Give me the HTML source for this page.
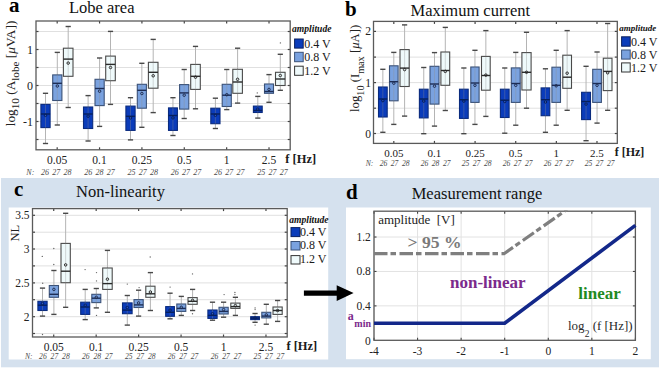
<!DOCTYPE html><html><head><meta charset="utf-8"><style>html,body{margin:0;padding:0;background:#fff;}svg{display:block;}text{font-family:"Liberation Serif", serif;}</style></head><body>
<svg width="660" height="369" viewBox="0 0 660 369">
<rect x="0" y="0" width="660" height="369" fill="#ffffff" stroke="none" stroke-width="0" />
<rect x="1" y="178" width="658" height="189.3" fill="#d5e1ee" stroke="none" stroke-width="0" />
<rect x="8.7" y="207.5" width="319.5" height="152" fill="#ffffff" stroke="none" stroke-width="0" />
<rect x="346" y="207.5" width="304.8" height="151.7" fill="#ffffff" stroke="none" stroke-width="0" />
<text x="9" y="12.1" font-size="21" text-anchor="start" font-weight="bold" font-style="normal" fill="#000" >a</text>
<text x="69" y="12.7" font-size="16.5" text-anchor="start" font-weight="normal" font-style="normal" fill="#111" >Lobe area</text>
<line x1="36" y1="31.5" x2="290.2" y2="31.5" stroke="#e0e0e0" stroke-width="1" />
<line x1="36" y1="31.5" x2="38.5" y2="31.5" stroke="#444" stroke-width="1.2" />
<line x1="287.7" y1="31.5" x2="290.2" y2="31.5" stroke="#444" stroke-width="1.2" />
<line x1="36" y1="49.5" x2="290.2" y2="49.5" stroke="#e0e0e0" stroke-width="1" />
<line x1="36" y1="49.5" x2="38.5" y2="49.5" stroke="#444" stroke-width="1.2" />
<line x1="287.7" y1="49.5" x2="290.2" y2="49.5" stroke="#444" stroke-width="1.2" />
<line x1="36" y1="67.5" x2="290.2" y2="67.5" stroke="#e0e0e0" stroke-width="1" />
<line x1="36" y1="67.5" x2="38.5" y2="67.5" stroke="#444" stroke-width="1.2" />
<line x1="287.7" y1="67.5" x2="290.2" y2="67.5" stroke="#444" stroke-width="1.2" />
<line x1="36" y1="85.5" x2="290.2" y2="85.5" stroke="#e0e0e0" stroke-width="1" />
<line x1="36" y1="85.5" x2="38.5" y2="85.5" stroke="#444" stroke-width="1.2" />
<line x1="287.7" y1="85.5" x2="290.2" y2="85.5" stroke="#444" stroke-width="1.2" />
<line x1="36" y1="103.5" x2="290.2" y2="103.5" stroke="#e0e0e0" stroke-width="1" />
<line x1="36" y1="103.5" x2="38.5" y2="103.5" stroke="#444" stroke-width="1.2" />
<line x1="287.7" y1="103.5" x2="290.2" y2="103.5" stroke="#444" stroke-width="1.2" />
<line x1="36" y1="121.5" x2="290.2" y2="121.5" stroke="#e0e0e0" stroke-width="1" />
<line x1="36" y1="121.5" x2="38.5" y2="121.5" stroke="#444" stroke-width="1.2" />
<line x1="287.7" y1="121.5" x2="290.2" y2="121.5" stroke="#444" stroke-width="1.2" />
<line x1="36" y1="139.5" x2="290.2" y2="139.5" stroke="#e0e0e0" stroke-width="1" />
<line x1="36" y1="139.5" x2="38.5" y2="139.5" stroke="#444" stroke-width="1.2" />
<line x1="287.7" y1="139.5" x2="290.2" y2="139.5" stroke="#444" stroke-width="1.2" />
<line x1="57.18333333333334" y1="149.8" x2="57.18333333333334" y2="147.3" stroke="#444" stroke-width="1.2" />
<line x1="57.18333333333334" y1="21" x2="57.18333333333334" y2="23.5" stroke="#444" stroke-width="1.2" />
<line x1="99.55" y1="149.8" x2="99.55" y2="147.3" stroke="#444" stroke-width="1.2" />
<line x1="99.55" y1="21" x2="99.55" y2="23.5" stroke="#444" stroke-width="1.2" />
<line x1="141.91666666666669" y1="149.8" x2="141.91666666666669" y2="147.3" stroke="#444" stroke-width="1.2" />
<line x1="141.91666666666669" y1="21" x2="141.91666666666669" y2="23.5" stroke="#444" stroke-width="1.2" />
<line x1="184.28333333333333" y1="149.8" x2="184.28333333333333" y2="147.3" stroke="#444" stroke-width="1.2" />
<line x1="184.28333333333333" y1="21" x2="184.28333333333333" y2="23.5" stroke="#444" stroke-width="1.2" />
<line x1="226.65" y1="149.8" x2="226.65" y2="147.3" stroke="#444" stroke-width="1.2" />
<line x1="226.65" y1="21" x2="226.65" y2="23.5" stroke="#444" stroke-width="1.2" />
<line x1="269.01666666666665" y1="149.8" x2="269.01666666666665" y2="147.3" stroke="#444" stroke-width="1.2" />
<line x1="269.01666666666665" y1="21" x2="269.01666666666665" y2="23.5" stroke="#444" stroke-width="1.2" />
<line x1="45.5" y1="93.3" x2="45.5" y2="104.4" stroke="#b4b4b4" stroke-width="1" />
<line x1="45.5" y1="127.6" x2="45.5" y2="143.5" stroke="#b4b4b4" stroke-width="1" />
<rect x="40.9" y="104.4" width="9.200000000000003" height="23.19999999999999" fill="#0b3cba" stroke="#0a2b7e" stroke-width="1.1" />
<line x1="45.5" y1="104.4" x2="45.5" y2="127.6" stroke="#909090" stroke-width="1" stroke-opacity="0.35"/>
<line x1="40.9" y1="114" x2="50.1" y2="114" stroke="#06205e" stroke-width="1.4" />
<circle cx="45.5" cy="115.3" r="1.25" fill="none" stroke="#06205e" stroke-width="1"/>
<line x1="42.9" y1="93.3" x2="48.1" y2="93.3" stroke="#484848" stroke-width="1.4" />
<line x1="42.9" y1="143.5" x2="48.1" y2="143.5" stroke="#484848" stroke-width="1.4" />
<line x1="57.3" y1="52.4" x2="57.3" y2="74.9" stroke="#b4b4b4" stroke-width="1" />
<line x1="57.3" y1="100.5" x2="57.3" y2="125" stroke="#b4b4b4" stroke-width="1" />
<rect x="52.7" y="74.9" width="9.199999999999996" height="25.599999999999994" fill="#7aa2df" stroke="#3b5278" stroke-width="1.1" />
<line x1="57.3" y1="74.9" x2="57.3" y2="100.5" stroke="#909090" stroke-width="1" stroke-opacity="0.35"/>
<line x1="52.7" y1="83.3" x2="61.9" y2="83.3" stroke="#1d2d55" stroke-width="1.4" />
<circle cx="57.3" cy="86" r="1.25" fill="none" stroke="#1d2d55" stroke-width="1"/>
<line x1="54.699999999999996" y1="52.4" x2="59.9" y2="52.4" stroke="#484848" stroke-width="1.4" />
<line x1="54.699999999999996" y1="125" x2="59.9" y2="125" stroke="#484848" stroke-width="1.4" />
<line x1="68.2" y1="26.5" x2="68.2" y2="48.2" stroke="#b4b4b4" stroke-width="1" />
<line x1="68.2" y1="76.3" x2="68.2" y2="107.5" stroke="#b4b4b4" stroke-width="1" />
<rect x="63.4" y="48.2" width="9.600000000000001" height="28.099999999999994" fill="#effafb" stroke="#4a4a4a" stroke-width="1.1" />
<line x1="68.2" y1="48.2" x2="68.2" y2="76.3" stroke="#909090" stroke-width="1" stroke-opacity="0.35"/>
<line x1="63.4" y1="59.1" x2="73.0" y2="59.1" stroke="#2a2a2a" stroke-width="1.4" />
<circle cx="68.2" cy="63.1" r="1.25" fill="none" stroke="#2a2a2a" stroke-width="1"/>
<line x1="65.60000000000001" y1="26.5" x2="70.8" y2="26.5" stroke="#484848" stroke-width="1.4" />
<line x1="65.60000000000001" y1="107.5" x2="70.8" y2="107.5" stroke="#484848" stroke-width="1.4" />
<line x1="88.1" y1="95.6" x2="88.1" y2="107" stroke="#b4b4b4" stroke-width="1" />
<line x1="88.1" y1="128.5" x2="88.1" y2="141" stroke="#b4b4b4" stroke-width="1" />
<rect x="83.5" y="107" width="9.200000000000003" height="21.5" fill="#0b3cba" stroke="#0a2b7e" stroke-width="1.1" />
<line x1="88.1" y1="107" x2="88.1" y2="128.5" stroke="#909090" stroke-width="1" stroke-opacity="0.35"/>
<line x1="83.5" y1="114" x2="92.7" y2="114" stroke="#06205e" stroke-width="1.4" />
<circle cx="88.1" cy="116.2" r="1.25" fill="none" stroke="#06205e" stroke-width="1"/>
<line x1="85.5" y1="95.6" x2="90.69999999999999" y2="95.6" stroke="#484848" stroke-width="1.4" />
<line x1="85.5" y1="141" x2="90.69999999999999" y2="141" stroke="#484848" stroke-width="1.4" />
<line x1="99.6" y1="58" x2="99.6" y2="79.3" stroke="#b4b4b4" stroke-width="1" />
<line x1="99.6" y1="105.6" x2="99.6" y2="126.4" stroke="#b4b4b4" stroke-width="1" />
<rect x="95.0" y="79.3" width="9.200000000000003" height="26.299999999999997" fill="#7aa2df" stroke="#3b5278" stroke-width="1.1" />
<line x1="99.6" y1="79.3" x2="99.6" y2="105.6" stroke="#909090" stroke-width="1" stroke-opacity="0.35"/>
<line x1="95.0" y1="88.5" x2="104.2" y2="88.5" stroke="#1d2d55" stroke-width="1.4" />
<circle cx="99.6" cy="91.2" r="1.25" fill="none" stroke="#1d2d55" stroke-width="1"/>
<line x1="97.0" y1="58" x2="102.19999999999999" y2="58" stroke="#484848" stroke-width="1.4" />
<line x1="97.0" y1="126.4" x2="102.19999999999999" y2="126.4" stroke="#484848" stroke-width="1.4" />
<line x1="110.5" y1="31.4" x2="110.5" y2="56.1" stroke="#b4b4b4" stroke-width="1" />
<line x1="110.5" y1="80.7" x2="110.5" y2="104.4" stroke="#b4b4b4" stroke-width="1" />
<rect x="105.7" y="56.1" width="9.599999999999994" height="24.6" fill="#effafb" stroke="#4a4a4a" stroke-width="1.1" />
<line x1="110.5" y1="56.1" x2="110.5" y2="80.7" stroke="#909090" stroke-width="1" stroke-opacity="0.35"/>
<line x1="105.7" y1="64.4" x2="115.3" y2="64.4" stroke="#2a2a2a" stroke-width="1.4" />
<circle cx="110.5" cy="67.5" r="1.25" fill="none" stroke="#2a2a2a" stroke-width="1"/>
<line x1="107.9" y1="31.4" x2="113.1" y2="31.4" stroke="#484848" stroke-width="1.4" />
<line x1="107.9" y1="104.4" x2="113.1" y2="104.4" stroke="#484848" stroke-width="1.4" />
<line x1="130.5" y1="97.7" x2="130.5" y2="106.1" stroke="#b4b4b4" stroke-width="1" />
<line x1="130.5" y1="130.4" x2="130.5" y2="139.9" stroke="#b4b4b4" stroke-width="1" />
<rect x="125.9" y="106.1" width="9.199999999999989" height="24.30000000000001" fill="#0b3cba" stroke="#0a2b7e" stroke-width="1.1" />
<line x1="130.5" y1="106.1" x2="130.5" y2="130.4" stroke="#909090" stroke-width="1" stroke-opacity="0.35"/>
<line x1="125.9" y1="116.3" x2="135.1" y2="116.3" stroke="#06205e" stroke-width="1.4" />
<circle cx="130.5" cy="117.9" r="1.25" fill="none" stroke="#06205e" stroke-width="1"/>
<line x1="127.9" y1="97.7" x2="133.1" y2="97.7" stroke="#484848" stroke-width="1.4" />
<line x1="127.9" y1="139.9" x2="133.1" y2="139.9" stroke="#484848" stroke-width="1.4" />
<line x1="141.85000000000002" y1="63.3" x2="141.85000000000002" y2="84.3" stroke="#b4b4b4" stroke-width="1" />
<line x1="141.85000000000002" y1="108.2" x2="141.85000000000002" y2="127.3" stroke="#b4b4b4" stroke-width="1" />
<rect x="137.3" y="84.3" width="9.099999999999994" height="23.900000000000006" fill="#7aa2df" stroke="#3b5278" stroke-width="1.1" />
<line x1="141.85000000000002" y1="84.3" x2="141.85000000000002" y2="108.2" stroke="#909090" stroke-width="1" stroke-opacity="0.35"/>
<line x1="137.3" y1="90.3" x2="146.4" y2="90.3" stroke="#1d2d55" stroke-width="1.4" />
<circle cx="141.85000000000002" cy="93.5" r="1.25" fill="none" stroke="#1d2d55" stroke-width="1"/>
<line x1="139.25000000000003" y1="63.3" x2="144.45000000000002" y2="63.3" stroke="#484848" stroke-width="1.4" />
<line x1="139.25000000000003" y1="127.3" x2="144.45000000000002" y2="127.3" stroke="#484848" stroke-width="1.4" />
<line x1="153.2" y1="39.4" x2="153.2" y2="62.3" stroke="#b4b4b4" stroke-width="1" />
<line x1="153.2" y1="88.2" x2="153.2" y2="112.6" stroke="#b4b4b4" stroke-width="1" />
<rect x="148.4" y="62.3" width="9.599999999999994" height="25.900000000000006" fill="#effafb" stroke="#4a4a4a" stroke-width="1.1" />
<line x1="153.2" y1="62.3" x2="153.2" y2="88.2" stroke="#909090" stroke-width="1" stroke-opacity="0.35"/>
<line x1="148.4" y1="72.3" x2="158.0" y2="72.3" stroke="#2a2a2a" stroke-width="1.4" />
<circle cx="153.2" cy="75.8" r="1.25" fill="none" stroke="#2a2a2a" stroke-width="1"/>
<line x1="150.6" y1="39.4" x2="155.79999999999998" y2="39.4" stroke="#484848" stroke-width="1.4" />
<line x1="150.6" y1="112.6" x2="155.79999999999998" y2="112.6" stroke="#484848" stroke-width="1.4" />
<line x1="172.95" y1="97.7" x2="172.95" y2="107.9" stroke="#b4b4b4" stroke-width="1" />
<line x1="172.95" y1="130.4" x2="172.95" y2="135.5" stroke="#b4b4b4" stroke-width="1" />
<rect x="168.5" y="107.9" width="8.900000000000006" height="22.5" fill="#0b3cba" stroke="#0a2b7e" stroke-width="1.1" />
<line x1="172.95" y1="107.9" x2="172.95" y2="130.4" stroke="#909090" stroke-width="1" stroke-opacity="0.35"/>
<line x1="168.5" y1="115.5" x2="177.4" y2="115.5" stroke="#06205e" stroke-width="1.4" />
<circle cx="172.95" cy="117.9" r="1.25" fill="none" stroke="#06205e" stroke-width="1"/>
<line x1="170.35" y1="97.7" x2="175.54999999999998" y2="97.7" stroke="#484848" stroke-width="1.4" />
<line x1="170.35" y1="135.5" x2="175.54999999999998" y2="135.5" stroke="#484848" stroke-width="1.4" />
<line x1="184.2" y1="69.5" x2="184.2" y2="84.6" stroke="#b4b4b4" stroke-width="1" />
<line x1="184.2" y1="109.1" x2="184.2" y2="118.5" stroke="#b4b4b4" stroke-width="1" />
<rect x="179.6" y="84.6" width="9.200000000000017" height="24.5" fill="#7aa2df" stroke="#3b5278" stroke-width="1.1" />
<line x1="184.2" y1="84.6" x2="184.2" y2="109.1" stroke="#909090" stroke-width="1" stroke-opacity="0.35"/>
<line x1="179.6" y1="92.9" x2="188.8" y2="92.9" stroke="#1d2d55" stroke-width="1.4" />
<circle cx="184.2" cy="95.2" r="1.25" fill="none" stroke="#1d2d55" stroke-width="1"/>
<line x1="181.6" y1="69.5" x2="186.79999999999998" y2="69.5" stroke="#484848" stroke-width="1.4" />
<line x1="181.6" y1="118.5" x2="186.79999999999998" y2="118.5" stroke="#484848" stroke-width="1.4" />
<line x1="195.5" y1="46.4" x2="195.5" y2="64.4" stroke="#b4b4b4" stroke-width="1" />
<line x1="195.5" y1="89.4" x2="195.5" y2="108.8" stroke="#b4b4b4" stroke-width="1" />
<rect x="190.7" y="64.4" width="9.600000000000023" height="25.0" fill="#effafb" stroke="#4a4a4a" stroke-width="1.1" />
<line x1="195.5" y1="64.4" x2="195.5" y2="89.4" stroke="#909090" stroke-width="1" stroke-opacity="0.35"/>
<line x1="190.7" y1="76.3" x2="200.3" y2="76.3" stroke="#2a2a2a" stroke-width="1.4" />
<circle cx="195.5" cy="77.2" r="1.25" fill="none" stroke="#2a2a2a" stroke-width="1"/>
<line x1="192.9" y1="46.4" x2="198.1" y2="46.4" stroke="#484848" stroke-width="1.4" />
<line x1="192.9" y1="108.8" x2="198.1" y2="108.8" stroke="#484848" stroke-width="1.4" />
<line x1="215.4" y1="98.2" x2="215.4" y2="108.2" stroke="#b4b4b4" stroke-width="1" />
<line x1="215.4" y1="123.7" x2="215.4" y2="128.5" stroke="#b4b4b4" stroke-width="1" />
<rect x="210.8" y="108.2" width="9.199999999999989" height="15.5" fill="#0b3cba" stroke="#0a2b7e" stroke-width="1.1" />
<line x1="215.4" y1="108.2" x2="215.4" y2="123.7" stroke="#909090" stroke-width="1" stroke-opacity="0.35"/>
<line x1="210.8" y1="114" x2="220.0" y2="114" stroke="#06205e" stroke-width="1.4" />
<circle cx="215.4" cy="115.3" r="1.25" fill="none" stroke="#06205e" stroke-width="1"/>
<line x1="212.8" y1="98.2" x2="218.0" y2="98.2" stroke="#484848" stroke-width="1.4" />
<line x1="212.8" y1="128.5" x2="218.0" y2="128.5" stroke="#484848" stroke-width="1.4" />
<line x1="226.75" y1="69.5" x2="226.75" y2="84.3" stroke="#b4b4b4" stroke-width="1" />
<line x1="226.75" y1="106.5" x2="226.75" y2="109.6" stroke="#b4b4b4" stroke-width="1" />
<rect x="222.2" y="84.3" width="9.100000000000023" height="22.200000000000003" fill="#7aa2df" stroke="#3b5278" stroke-width="1.1" />
<line x1="226.75" y1="84.3" x2="226.75" y2="106.5" stroke="#909090" stroke-width="1" stroke-opacity="0.35"/>
<line x1="222.2" y1="95.2" x2="231.3" y2="95.2" stroke="#1d2d55" stroke-width="1.4" />
<circle cx="226.75" cy="94.7" r="1.25" fill="none" stroke="#1d2d55" stroke-width="1"/>
<line x1="224.15" y1="69.5" x2="229.35" y2="69.5" stroke="#484848" stroke-width="1.4" />
<line x1="224.15" y1="109.6" x2="229.35" y2="109.6" stroke="#484848" stroke-width="1.4" />
<line x1="237.60000000000002" y1="48.2" x2="237.60000000000002" y2="69.3" stroke="#b4b4b4" stroke-width="1" />
<line x1="237.60000000000002" y1="93.3" x2="237.60000000000002" y2="103.1" stroke="#b4b4b4" stroke-width="1" />
<rect x="232.8" y="69.3" width="9.599999999999994" height="24.0" fill="#effafb" stroke="#4a4a4a" stroke-width="1.1" />
<line x1="237.60000000000002" y1="69.3" x2="237.60000000000002" y2="93.3" stroke="#909090" stroke-width="1" stroke-opacity="0.35"/>
<line x1="232.8" y1="82" x2="242.4" y2="82" stroke="#2a2a2a" stroke-width="1.4" />
<circle cx="237.60000000000002" cy="79.3" r="1.25" fill="none" stroke="#2a2a2a" stroke-width="1"/>
<line x1="235.00000000000003" y1="48.2" x2="240.20000000000002" y2="48.2" stroke="#484848" stroke-width="1.4" />
<line x1="235.00000000000003" y1="103.1" x2="240.20000000000002" y2="103.1" stroke="#484848" stroke-width="1.4" />
<line x1="257.8" y1="96.4" x2="257.8" y2="106.1" stroke="#b4b4b4" stroke-width="1" />
<line x1="257.8" y1="112.5" x2="257.8" y2="118.1" stroke="#b4b4b4" stroke-width="1" />
<rect x="253.4" y="106.1" width="8.799999999999983" height="6.400000000000006" fill="#0b3cba" stroke="#0a2b7e" stroke-width="1.1" />
<line x1="257.8" y1="106.1" x2="257.8" y2="112.5" stroke="#909090" stroke-width="1" stroke-opacity="0.35"/>
<line x1="253.4" y1="110.5" x2="262.2" y2="110.5" stroke="#06205e" stroke-width="1.4" />
<circle cx="257.8" cy="109.1" r="1.25" fill="none" stroke="#06205e" stroke-width="1"/>
<line x1="255.20000000000002" y1="96.4" x2="260.40000000000003" y2="96.4" stroke="#484848" stroke-width="1.4" />
<line x1="255.20000000000002" y1="118.1" x2="260.40000000000003" y2="118.1" stroke="#484848" stroke-width="1.4" />
<line x1="269.0" y1="74.6" x2="269.0" y2="84" stroke="#b4b4b4" stroke-width="1" />
<line x1="269.0" y1="93.3" x2="269.0" y2="102.3" stroke="#b4b4b4" stroke-width="1" />
<rect x="264.5" y="84" width="9" height="9.299999999999997" fill="#7aa2df" stroke="#3b5278" stroke-width="1.1" />
<line x1="269.0" y1="84" x2="269.0" y2="93.3" stroke="#909090" stroke-width="1" stroke-opacity="0.35"/>
<line x1="264.5" y1="91.5" x2="273.5" y2="91.5" stroke="#1d2d55" stroke-width="1.4" />
<circle cx="269.0" cy="89.4" r="1.25" fill="none" stroke="#1d2d55" stroke-width="1"/>
<line x1="266.4" y1="74.6" x2="271.6" y2="74.6" stroke="#484848" stroke-width="1.4" />
<line x1="266.4" y1="102.3" x2="271.6" y2="102.3" stroke="#484848" stroke-width="1.4" />
<line x1="280.3" y1="54.3" x2="280.3" y2="72.3" stroke="#b4b4b4" stroke-width="1" />
<line x1="280.3" y1="85.5" x2="280.3" y2="90.3" stroke="#b4b4b4" stroke-width="1" />
<rect x="275.5" y="72.3" width="9.600000000000023" height="13.200000000000003" fill="#effafb" stroke="#4a4a4a" stroke-width="1.1" />
<line x1="280.3" y1="72.3" x2="280.3" y2="85.5" stroke="#909090" stroke-width="1" stroke-opacity="0.35"/>
<line x1="275.5" y1="79" x2="285.1" y2="79" stroke="#2a2a2a" stroke-width="1.4" />
<circle cx="280.3" cy="75.5" r="1.25" fill="none" stroke="#2a2a2a" stroke-width="1"/>
<line x1="277.7" y1="54.3" x2="282.90000000000003" y2="54.3" stroke="#484848" stroke-width="1.4" />
<line x1="277.7" y1="90.3" x2="282.90000000000003" y2="90.3" stroke="#484848" stroke-width="1.4" />
<circle cx="257.3" cy="92.9" r="0.7" fill="#666"/>
<circle cx="280.4" cy="42.9" r="0.7" fill="#666"/>
<rect x="36" y="21" width="254.2" height="128.8" fill="none" stroke="#5a5a5a" stroke-width="1.3"/>
<text x="33" y="53.6" font-size="12" text-anchor="end" font-weight="normal" font-style="normal" fill="#222" >1</text>
<text x="33" y="89.6" font-size="12" text-anchor="end" font-weight="normal" font-style="normal" fill="#222" >0</text>
<text x="33" y="125.6" font-size="12" text-anchor="end" font-weight="normal" font-style="normal" fill="#222" >-1</text>
<g transform="translate(14.8,126.3) rotate(-90)">
<text x="0" y="0" font-size="13.3" fill="#222">log<tspan font-size="11.2" dy="4.5">10</tspan><tspan dy="-4.5"> (A</tspan><tspan font-size="11.2" dy="4.5">lobe</tspan><tspan dy="-4.5"> [</tspan><tspan font-style="italic">μ</tspan>VA])</text>
</g>
<text x="57.18333333333334" y="163.7" font-size="11.5" text-anchor="middle" font-weight="normal" font-style="normal" fill="#222" >0.05</text>
<text x="45.0" y="174.8" font-size="8" text-anchor="middle" font-weight="normal" font-style="italic" fill="#4a4a4a" >26</text>
<text x="56.3" y="174.8" font-size="8" text-anchor="middle" font-weight="normal" font-style="italic" fill="#4a4a4a" >27</text>
<text x="67.6" y="174.8" font-size="8" text-anchor="middle" font-weight="normal" font-style="italic" fill="#4a4a4a" >28</text>
<text x="99.55" y="163.7" font-size="11.5" text-anchor="middle" font-weight="normal" font-style="normal" fill="#222" >0.1</text>
<text x="88.25" y="174.8" font-size="8" text-anchor="middle" font-weight="normal" font-style="italic" fill="#4a4a4a" >26</text>
<text x="99.55" y="174.8" font-size="8" text-anchor="middle" font-weight="normal" font-style="italic" fill="#4a4a4a" >28</text>
<text x="110.85" y="174.8" font-size="8" text-anchor="middle" font-weight="normal" font-style="italic" fill="#4a4a4a" >27</text>
<text x="141.91666666666669" y="163.7" font-size="11.5" text-anchor="middle" font-weight="normal" font-style="normal" fill="#222" >0.25</text>
<text x="131.5" y="174.8" font-size="8" text-anchor="middle" font-weight="normal" font-style="italic" fill="#4a4a4a" >25</text>
<text x="142.8" y="174.8" font-size="8" text-anchor="middle" font-weight="normal" font-style="italic" fill="#4a4a4a" >27</text>
<text x="154.1" y="174.8" font-size="8" text-anchor="middle" font-weight="normal" font-style="italic" fill="#4a4a4a" >28</text>
<text x="184.28333333333333" y="163.7" font-size="11.5" text-anchor="middle" font-weight="normal" font-style="normal" fill="#222" >0.5</text>
<text x="174.75" y="174.8" font-size="8" text-anchor="middle" font-weight="normal" font-style="italic" fill="#4a4a4a" >26</text>
<text x="186.05" y="174.8" font-size="8" text-anchor="middle" font-weight="normal" font-style="italic" fill="#4a4a4a" >27</text>
<text x="197.35" y="174.8" font-size="8" text-anchor="middle" font-weight="normal" font-style="italic" fill="#4a4a4a" >27</text>
<text x="226.65" y="163.7" font-size="11.5" text-anchor="middle" font-weight="normal" font-style="normal" fill="#222" >1</text>
<text x="218.0" y="174.8" font-size="8" text-anchor="middle" font-weight="normal" font-style="italic" fill="#4a4a4a" >26</text>
<text x="229.3" y="174.8" font-size="8" text-anchor="middle" font-weight="normal" font-style="italic" fill="#4a4a4a" >27</text>
<text x="240.6" y="174.8" font-size="8" text-anchor="middle" font-weight="normal" font-style="italic" fill="#4a4a4a" >27</text>
<text x="269.01666666666665" y="163.7" font-size="11.5" text-anchor="middle" font-weight="normal" font-style="normal" fill="#222" >2.5</text>
<text x="261.25" y="174.8" font-size="8" text-anchor="middle" font-weight="normal" font-style="italic" fill="#4a4a4a" >25</text>
<text x="272.55" y="174.8" font-size="8" text-anchor="middle" font-weight="normal" font-style="italic" fill="#4a4a4a" >27</text>
<text x="283.85" y="174.8" font-size="8" text-anchor="middle" font-weight="normal" font-style="italic" fill="#4a4a4a" >27</text>
<text x="26.3" y="174.8" font-size="8" text-anchor="start" font-weight="normal" font-style="italic" fill="#4a4a4a" >N:</text>
<text x="285.3" y="163" font-size="12.5" text-anchor="start" font-weight="bold" font-style="normal" fill="#1a1a1a" >f [Hz]</text>
<text x="292" y="31.6" font-size="9.6" text-anchor="start" font-weight="bold" font-style="italic" fill="#111" >amplitude</text>
<rect x="294.6" y="39" width="8.6" height="9.100000000000001" fill="#0b3cba" stroke="#0a2060" stroke-width="1" />
<text x="304.2" y="47.5" font-size="12" text-anchor="start" font-weight="normal" font-style="normal" fill="#1a1a1a" >0.4 V</text>
<rect x="294.6" y="52.3" width="8.6" height="9.400000000000006" fill="#7aa2df" stroke="#3b5278" stroke-width="1" />
<text x="304.2" y="61.1" font-size="12" text-anchor="start" font-weight="normal" font-style="normal" fill="#1a1a1a" >0.8 V</text>
<rect x="294.6" y="66.2" width="8.6" height="9.099999999999994" fill="#effafb" stroke="#333" stroke-width="1" />
<text x="304.2" y="74.7" font-size="12" text-anchor="start" font-weight="normal" font-style="normal" fill="#1a1a1a" >1.2 V</text>
<text x="345" y="16" font-size="21" text-anchor="start" font-weight="bold" font-style="normal" fill="#000" >b</text>
<text x="410.5" y="16" font-size="16.5" text-anchor="start" font-weight="normal" font-style="normal" fill="#111" >Maximum current</text>
<line x1="373.5" y1="31.4" x2="617.3" y2="31.4" stroke="#e0e0e0" stroke-width="1" />
<line x1="373.5" y1="31.4" x2="376.0" y2="31.4" stroke="#444" stroke-width="1.2" />
<line x1="614.8" y1="31.4" x2="617.3" y2="31.4" stroke="#444" stroke-width="1.2" />
<line x1="373.5" y1="57.1" x2="617.3" y2="57.1" stroke="#e0e0e0" stroke-width="1" />
<line x1="373.5" y1="57.1" x2="376.0" y2="57.1" stroke="#444" stroke-width="1.2" />
<line x1="614.8" y1="57.1" x2="617.3" y2="57.1" stroke="#444" stroke-width="1.2" />
<line x1="373.5" y1="82.6" x2="617.3" y2="82.6" stroke="#e0e0e0" stroke-width="1" />
<line x1="373.5" y1="82.6" x2="376.0" y2="82.6" stroke="#444" stroke-width="1.2" />
<line x1="614.8" y1="82.6" x2="617.3" y2="82.6" stroke="#444" stroke-width="1.2" />
<line x1="373.5" y1="108.2" x2="617.3" y2="108.2" stroke="#e0e0e0" stroke-width="1" />
<line x1="373.5" y1="108.2" x2="376.0" y2="108.2" stroke="#444" stroke-width="1.2" />
<line x1="614.8" y1="108.2" x2="617.3" y2="108.2" stroke="#444" stroke-width="1.2" />
<line x1="373.5" y1="133.5" x2="617.3" y2="133.5" stroke="#e0e0e0" stroke-width="1" />
<line x1="373.5" y1="133.5" x2="376.0" y2="133.5" stroke="#444" stroke-width="1.2" />
<line x1="614.8" y1="133.5" x2="617.3" y2="133.5" stroke="#444" stroke-width="1.2" />
<line x1="393.81666666666666" y1="143.4" x2="393.81666666666666" y2="140.9" stroke="#444" stroke-width="1.2" />
<line x1="393.81666666666666" y1="21.4" x2="393.81666666666666" y2="23.9" stroke="#444" stroke-width="1.2" />
<line x1="434.45" y1="143.4" x2="434.45" y2="140.9" stroke="#444" stroke-width="1.2" />
<line x1="434.45" y1="21.4" x2="434.45" y2="23.9" stroke="#444" stroke-width="1.2" />
<line x1="475.0833333333333" y1="143.4" x2="475.0833333333333" y2="140.9" stroke="#444" stroke-width="1.2" />
<line x1="475.0833333333333" y1="21.4" x2="475.0833333333333" y2="23.9" stroke="#444" stroke-width="1.2" />
<line x1="515.7166666666667" y1="143.4" x2="515.7166666666667" y2="140.9" stroke="#444" stroke-width="1.2" />
<line x1="515.7166666666667" y1="21.4" x2="515.7166666666667" y2="23.9" stroke="#444" stroke-width="1.2" />
<line x1="556.3499999999999" y1="143.4" x2="556.3499999999999" y2="140.9" stroke="#444" stroke-width="1.2" />
<line x1="556.3499999999999" y1="21.4" x2="556.3499999999999" y2="23.9" stroke="#444" stroke-width="1.2" />
<line x1="596.9833333333333" y1="143.4" x2="596.9833333333333" y2="140.9" stroke="#444" stroke-width="1.2" />
<line x1="596.9833333333333" y1="21.4" x2="596.9833333333333" y2="23.9" stroke="#444" stroke-width="1.2" />
<line x1="382.85" y1="69.3" x2="382.85" y2="87" stroke="#b4b4b4" stroke-width="1" />
<line x1="382.85" y1="117" x2="382.85" y2="132.3" stroke="#b4b4b4" stroke-width="1" />
<rect x="378.5" y="87" width="8.699999999999989" height="30" fill="#0b3cba" stroke="#0a2b7e" stroke-width="1.1" />
<line x1="382.85" y1="87" x2="382.85" y2="117" stroke="#909090" stroke-width="1" stroke-opacity="0.35"/>
<line x1="378.5" y1="99" x2="387.2" y2="99" stroke="#06205e" stroke-width="1.4" />
<circle cx="382.85" cy="100.6" r="1.25" fill="none" stroke="#06205e" stroke-width="1"/>
<line x1="380.25" y1="69.3" x2="385.45000000000005" y2="69.3" stroke="#484848" stroke-width="1.4" />
<line x1="380.25" y1="132.3" x2="385.45000000000005" y2="132.3" stroke="#484848" stroke-width="1.4" />
<line x1="393.8" y1="52.4" x2="393.8" y2="65.8" stroke="#b4b4b4" stroke-width="1" />
<line x1="393.8" y1="100.8" x2="393.8" y2="124.4" stroke="#b4b4b4" stroke-width="1" />
<rect x="389.5" y="65.8" width="8.600000000000023" height="35.0" fill="#7aa2df" stroke="#3b5278" stroke-width="1.1" />
<line x1="393.8" y1="65.8" x2="393.8" y2="100.8" stroke="#909090" stroke-width="1" stroke-opacity="0.35"/>
<line x1="389.5" y1="81.7" x2="398.1" y2="81.7" stroke="#1d2d55" stroke-width="1.4" />
<circle cx="393.8" cy="83.2" r="1.25" fill="none" stroke="#1d2d55" stroke-width="1"/>
<line x1="391.2" y1="52.4" x2="396.40000000000003" y2="52.4" stroke="#484848" stroke-width="1.4" />
<line x1="391.2" y1="124.4" x2="396.40000000000003" y2="124.4" stroke="#484848" stroke-width="1.4" />
<line x1="404.6" y1="24.9" x2="404.6" y2="49.6" stroke="#b4b4b4" stroke-width="1" />
<line x1="404.6" y1="86.5" x2="404.6" y2="116.1" stroke="#b4b4b4" stroke-width="1" />
<rect x="400.0" y="49.6" width="9.199999999999989" height="36.9" fill="#effafb" stroke="#4a4a4a" stroke-width="1.1" />
<line x1="404.6" y1="49.6" x2="404.6" y2="86.5" stroke="#909090" stroke-width="1" stroke-opacity="0.35"/>
<line x1="400.0" y1="68.1" x2="409.2" y2="68.1" stroke="#2a2a2a" stroke-width="1.4" />
<circle cx="404.6" cy="69.6" r="1.25" fill="none" stroke="#2a2a2a" stroke-width="1"/>
<line x1="402.0" y1="24.9" x2="407.20000000000005" y2="24.9" stroke="#484848" stroke-width="1.4" />
<line x1="402.0" y1="116.1" x2="407.20000000000005" y2="116.1" stroke="#484848" stroke-width="1.4" />
<line x1="423.75" y1="67.5" x2="423.75" y2="89.2" stroke="#b4b4b4" stroke-width="1" />
<line x1="423.75" y1="117.9" x2="423.75" y2="133.7" stroke="#b4b4b4" stroke-width="1" />
<rect x="419.4" y="89.2" width="8.700000000000045" height="28.700000000000003" fill="#0b3cba" stroke="#0a2b7e" stroke-width="1.1" />
<line x1="423.75" y1="89.2" x2="423.75" y2="117.9" stroke="#909090" stroke-width="1" stroke-opacity="0.35"/>
<line x1="419.4" y1="99" x2="428.1" y2="99" stroke="#06205e" stroke-width="1.4" />
<circle cx="423.75" cy="101.1" r="1.25" fill="none" stroke="#06205e" stroke-width="1"/>
<line x1="421.15" y1="67.5" x2="426.35" y2="67.5" stroke="#484848" stroke-width="1.4" />
<line x1="421.15" y1="133.7" x2="426.35" y2="133.7" stroke="#484848" stroke-width="1.4" />
<line x1="434.5" y1="52.6" x2="434.5" y2="66.3" stroke="#b4b4b4" stroke-width="1" />
<line x1="434.5" y1="104.1" x2="434.5" y2="126.1" stroke="#b4b4b4" stroke-width="1" />
<rect x="430.0" y="66.3" width="9.0" height="37.8" fill="#7aa2df" stroke="#3b5278" stroke-width="1.1" />
<line x1="434.5" y1="66.3" x2="434.5" y2="104.1" stroke="#909090" stroke-width="1" stroke-opacity="0.35"/>
<line x1="430.0" y1="84" x2="439.0" y2="84" stroke="#1d2d55" stroke-width="1.4" />
<circle cx="434.5" cy="86.2" r="1.25" fill="none" stroke="#1d2d55" stroke-width="1"/>
<line x1="431.9" y1="52.6" x2="437.1" y2="52.6" stroke="#484848" stroke-width="1.4" />
<line x1="431.9" y1="126.1" x2="437.1" y2="126.1" stroke="#484848" stroke-width="1.4" />
<line x1="445.29999999999995" y1="27.4" x2="445.29999999999995" y2="52" stroke="#b4b4b4" stroke-width="1" />
<line x1="445.29999999999995" y1="85.3" x2="445.29999999999995" y2="110.5" stroke="#b4b4b4" stroke-width="1" />
<rect x="440.9" y="52" width="8.800000000000011" height="33.3" fill="#effafb" stroke="#4a4a4a" stroke-width="1.1" />
<line x1="445.29999999999995" y1="52" x2="445.29999999999995" y2="85.3" stroke="#909090" stroke-width="1" stroke-opacity="0.35"/>
<line x1="440.9" y1="70.5" x2="449.7" y2="70.5" stroke="#2a2a2a" stroke-width="1.4" />
<circle cx="445.29999999999995" cy="71.4" r="1.25" fill="none" stroke="#2a2a2a" stroke-width="1"/>
<line x1="442.69999999999993" y1="27.4" x2="447.9" y2="27.4" stroke="#484848" stroke-width="1.4" />
<line x1="442.69999999999993" y1="110.5" x2="447.9" y2="110.5" stroke="#484848" stroke-width="1.4" />
<line x1="463.85" y1="68" x2="463.85" y2="89.2" stroke="#b4b4b4" stroke-width="1" />
<line x1="463.85" y1="118.4" x2="463.85" y2="133.7" stroke="#b4b4b4" stroke-width="1" />
<rect x="459.5" y="89.2" width="8.699999999999989" height="29.200000000000003" fill="#0b3cba" stroke="#0a2b7e" stroke-width="1.1" />
<line x1="463.85" y1="89.2" x2="463.85" y2="118.4" stroke="#909090" stroke-width="1" stroke-opacity="0.35"/>
<line x1="459.5" y1="99.7" x2="468.2" y2="99.7" stroke="#06205e" stroke-width="1.4" />
<circle cx="463.85" cy="101.1" r="1.25" fill="none" stroke="#06205e" stroke-width="1"/>
<line x1="461.25" y1="68" x2="466.45000000000005" y2="68" stroke="#484848" stroke-width="1.4" />
<line x1="461.25" y1="133.7" x2="466.45000000000005" y2="133.7" stroke="#484848" stroke-width="1.4" />
<line x1="474.95000000000005" y1="50.3" x2="474.95000000000005" y2="67" stroke="#b4b4b4" stroke-width="1" />
<line x1="474.95000000000005" y1="102.4" x2="474.95000000000005" y2="124.4" stroke="#b4b4b4" stroke-width="1" />
<rect x="470.8" y="67" width="8.300000000000011" height="35.400000000000006" fill="#7aa2df" stroke="#3b5278" stroke-width="1.1" />
<line x1="474.95000000000005" y1="67" x2="474.95000000000005" y2="102.4" stroke="#909090" stroke-width="1" stroke-opacity="0.35"/>
<line x1="470.8" y1="83" x2="479.1" y2="83" stroke="#1d2d55" stroke-width="1.4" />
<circle cx="474.95000000000005" cy="85.3" r="1.25" fill="none" stroke="#1d2d55" stroke-width="1"/>
<line x1="472.35" y1="50.3" x2="477.55000000000007" y2="50.3" stroke="#484848" stroke-width="1.4" />
<line x1="472.35" y1="124.4" x2="477.55000000000007" y2="124.4" stroke="#484848" stroke-width="1.4" />
<line x1="485.85" y1="30.6" x2="485.85" y2="56.4" stroke="#b4b4b4" stroke-width="1" />
<line x1="485.85" y1="90.2" x2="485.85" y2="116.4" stroke="#b4b4b4" stroke-width="1" />
<rect x="481.5" y="56.4" width="8.699999999999989" height="33.800000000000004" fill="#effafb" stroke="#4a4a4a" stroke-width="1.1" />
<line x1="485.85" y1="56.4" x2="485.85" y2="90.2" stroke="#909090" stroke-width="1" stroke-opacity="0.35"/>
<line x1="481.5" y1="75.5" x2="490.2" y2="75.5" stroke="#2a2a2a" stroke-width="1.4" />
<circle cx="485.85" cy="75.1" r="1.25" fill="none" stroke="#2a2a2a" stroke-width="1"/>
<line x1="483.25" y1="30.6" x2="488.45000000000005" y2="30.6" stroke="#484848" stroke-width="1.4" />
<line x1="483.25" y1="116.4" x2="488.45000000000005" y2="116.4" stroke="#484848" stroke-width="1.4" />
<line x1="504.75" y1="68" x2="504.75" y2="89.2" stroke="#b4b4b4" stroke-width="1" />
<line x1="504.75" y1="117.5" x2="504.75" y2="133.2" stroke="#b4b4b4" stroke-width="1" />
<rect x="500.4" y="89.2" width="8.700000000000045" height="28.299999999999997" fill="#0b3cba" stroke="#0a2b7e" stroke-width="1.1" />
<line x1="504.75" y1="89.2" x2="504.75" y2="117.5" stroke="#909090" stroke-width="1" stroke-opacity="0.35"/>
<line x1="500.4" y1="100.2" x2="509.1" y2="100.2" stroke="#06205e" stroke-width="1.4" />
<circle cx="504.75" cy="101.5" r="1.25" fill="none" stroke="#06205e" stroke-width="1"/>
<line x1="502.15" y1="68" x2="507.35" y2="68" stroke="#484848" stroke-width="1.4" />
<line x1="502.15" y1="133.2" x2="507.35" y2="133.2" stroke="#484848" stroke-width="1.4" />
<line x1="515.75" y1="52.4" x2="515.75" y2="67.9" stroke="#b4b4b4" stroke-width="1" />
<line x1="515.75" y1="102.4" x2="515.75" y2="125.2" stroke="#b4b4b4" stroke-width="1" />
<rect x="511.3" y="67.9" width="8.900000000000034" height="34.5" fill="#7aa2df" stroke="#3b5278" stroke-width="1.1" />
<line x1="515.75" y1="67.9" x2="515.75" y2="102.4" stroke="#909090" stroke-width="1" stroke-opacity="0.35"/>
<line x1="511.3" y1="83.5" x2="520.2" y2="83.5" stroke="#1d2d55" stroke-width="1.4" />
<circle cx="515.75" cy="85.3" r="1.25" fill="none" stroke="#1d2d55" stroke-width="1"/>
<line x1="513.15" y1="52.4" x2="518.35" y2="52.4" stroke="#484848" stroke-width="1.4" />
<line x1="513.15" y1="125.2" x2="518.35" y2="125.2" stroke="#484848" stroke-width="1.4" />
<line x1="526.5" y1="32.3" x2="526.5" y2="52.6" stroke="#b4b4b4" stroke-width="1" />
<line x1="526.5" y1="90" x2="526.5" y2="108.2" stroke="#b4b4b4" stroke-width="1" />
<rect x="521.9" y="52.6" width="9.200000000000045" height="37.4" fill="#effafb" stroke="#4a4a4a" stroke-width="1.1" />
<line x1="526.5" y1="52.6" x2="526.5" y2="90" stroke="#909090" stroke-width="1" stroke-opacity="0.35"/>
<line x1="521.9" y1="72.3" x2="531.1" y2="72.3" stroke="#2a2a2a" stroke-width="1.4" />
<circle cx="526.5" cy="72.3" r="1.25" fill="none" stroke="#2a2a2a" stroke-width="1"/>
<line x1="523.9" y1="32.3" x2="529.1" y2="32.3" stroke="#484848" stroke-width="1.4" />
<line x1="523.9" y1="108.2" x2="529.1" y2="108.2" stroke="#484848" stroke-width="1.4" />
<line x1="545.45" y1="68.8" x2="545.45" y2="87.9" stroke="#b4b4b4" stroke-width="1" />
<line x1="545.45" y1="115.7" x2="545.45" y2="132.3" stroke="#b4b4b4" stroke-width="1" />
<rect x="541.1" y="87.9" width="8.699999999999932" height="27.799999999999997" fill="#0b3cba" stroke="#0a2b7e" stroke-width="1.1" />
<line x1="545.45" y1="87.9" x2="545.45" y2="115.7" stroke="#909090" stroke-width="1" stroke-opacity="0.35"/>
<line x1="541.1" y1="99.7" x2="549.8" y2="99.7" stroke="#06205e" stroke-width="1.4" />
<circle cx="545.45" cy="102" r="1.25" fill="none" stroke="#06205e" stroke-width="1"/>
<line x1="542.85" y1="68.8" x2="548.0500000000001" y2="68.8" stroke="#484848" stroke-width="1.4" />
<line x1="542.85" y1="132.3" x2="548.0500000000001" y2="132.3" stroke="#484848" stroke-width="1.4" />
<line x1="556.2" y1="50.3" x2="556.2" y2="67.2" stroke="#b4b4b4" stroke-width="1" />
<line x1="556.2" y1="102.4" x2="556.2" y2="125.2" stroke="#b4b4b4" stroke-width="1" />
<rect x="551.9" y="67.2" width="8.600000000000023" height="35.2" fill="#7aa2df" stroke="#3b5278" stroke-width="1.1" />
<line x1="556.2" y1="67.2" x2="556.2" y2="102.4" stroke="#909090" stroke-width="1" stroke-opacity="0.35"/>
<line x1="551.9" y1="85.3" x2="560.5" y2="85.3" stroke="#1d2d55" stroke-width="1.4" />
<circle cx="556.2" cy="85.8" r="1.25" fill="none" stroke="#1d2d55" stroke-width="1"/>
<line x1="553.6" y1="50.3" x2="558.8000000000001" y2="50.3" stroke="#484848" stroke-width="1.4" />
<line x1="553.6" y1="125.2" x2="558.8000000000001" y2="125.2" stroke="#484848" stroke-width="1.4" />
<line x1="567.15" y1="30.6" x2="567.15" y2="55.2" stroke="#b4b4b4" stroke-width="1" />
<line x1="567.15" y1="88.3" x2="567.15" y2="110.3" stroke="#b4b4b4" stroke-width="1" />
<rect x="562.8" y="55.2" width="8.700000000000045" height="33.099999999999994" fill="#effafb" stroke="#4a4a4a" stroke-width="1.1" />
<line x1="567.15" y1="55.2" x2="567.15" y2="88.3" stroke="#909090" stroke-width="1" stroke-opacity="0.35"/>
<line x1="562.8" y1="77.2" x2="571.5" y2="77.2" stroke="#2a2a2a" stroke-width="1.4" />
<circle cx="567.15" cy="73.2" r="1.25" fill="none" stroke="#2a2a2a" stroke-width="1"/>
<line x1="564.55" y1="30.6" x2="569.75" y2="30.6" stroke="#484848" stroke-width="1.4" />
<line x1="564.55" y1="110.3" x2="569.75" y2="110.3" stroke="#484848" stroke-width="1.4" />
<line x1="586.05" y1="66.3" x2="586.05" y2="92.3" stroke="#b4b4b4" stroke-width="1" />
<line x1="586.05" y1="119.6" x2="586.05" y2="140.7" stroke="#b4b4b4" stroke-width="1" />
<rect x="581.6" y="92.3" width="8.899999999999977" height="27.299999999999997" fill="#0b3cba" stroke="#0a2b7e" stroke-width="1.1" />
<line x1="586.05" y1="92.3" x2="586.05" y2="119.6" stroke="#909090" stroke-width="1" stroke-opacity="0.35"/>
<line x1="581.6" y1="101.5" x2="590.5" y2="101.5" stroke="#06205e" stroke-width="1.4" />
<circle cx="586.05" cy="104.1" r="1.25" fill="none" stroke="#06205e" stroke-width="1"/>
<line x1="583.4499999999999" y1="66.3" x2="588.65" y2="66.3" stroke="#484848" stroke-width="1.4" />
<line x1="583.4499999999999" y1="140.7" x2="588.65" y2="140.7" stroke="#484848" stroke-width="1.4" />
<line x1="597.05" y1="52" x2="597.05" y2="69.3" stroke="#b4b4b4" stroke-width="1" />
<line x1="597.05" y1="102.4" x2="597.05" y2="123.1" stroke="#b4b4b4" stroke-width="1" />
<rect x="592.7" y="69.3" width="8.699999999999932" height="33.10000000000001" fill="#7aa2df" stroke="#3b5278" stroke-width="1.1" />
<line x1="597.05" y1="69.3" x2="597.05" y2="102.4" stroke="#909090" stroke-width="1" stroke-opacity="0.35"/>
<line x1="592.7" y1="83.5" x2="601.4" y2="83.5" stroke="#1d2d55" stroke-width="1.4" />
<circle cx="597.05" cy="85.3" r="1.25" fill="none" stroke="#1d2d55" stroke-width="1"/>
<line x1="594.4499999999999" y1="52" x2="599.65" y2="52" stroke="#484848" stroke-width="1.4" />
<line x1="594.4499999999999" y1="123.1" x2="599.65" y2="123.1" stroke="#484848" stroke-width="1.4" />
<line x1="607.65" y1="23.5" x2="607.65" y2="58.2" stroke="#b4b4b4" stroke-width="1" />
<line x1="607.65" y1="90.6" x2="607.65" y2="110.3" stroke="#b4b4b4" stroke-width="1" />
<rect x="603.3" y="58.2" width="8.700000000000045" height="32.39999999999999" fill="#effafb" stroke="#4a4a4a" stroke-width="1.1" />
<line x1="607.65" y1="58.2" x2="607.65" y2="90.6" stroke="#909090" stroke-width="1" stroke-opacity="0.35"/>
<line x1="603.3" y1="71.4" x2="612.0" y2="71.4" stroke="#2a2a2a" stroke-width="1.4" />
<circle cx="607.65" cy="72.8" r="1.25" fill="none" stroke="#2a2a2a" stroke-width="1"/>
<line x1="605.05" y1="23.5" x2="610.25" y2="23.5" stroke="#484848" stroke-width="1.4" />
<line x1="605.05" y1="110.3" x2="610.25" y2="110.3" stroke="#484848" stroke-width="1.4" />
<rect x="373.5" y="21.4" width="243.79999999999995" height="122.0" fill="none" stroke="#5a5a5a" stroke-width="1.3"/>
<text x="371" y="35.4" font-size="11.6" text-anchor="end" font-weight="normal" font-style="normal" fill="#222" >2</text>
<text x="371" y="86.6" font-size="11.6" text-anchor="end" font-weight="normal" font-style="normal" fill="#222" >1</text>
<text x="371" y="137.5" font-size="11.6" text-anchor="end" font-weight="normal" font-style="normal" fill="#222" >0</text>
<g transform="translate(359.3,112) rotate(-90)">
<text x="0" y="0" font-size="12.75" fill="#222">log<tspan font-size="10.2" dy="4.2">10</tspan><tspan dy="-4.2"> (I</tspan><tspan font-size="10.2" dy="4.2">max</tspan><tspan dy="-4.2"> [</tspan><tspan font-style="italic">μ</tspan>A])</text>
</g>
<text x="393.81666666666666" y="157" font-size="11" text-anchor="middle" font-weight="normal" font-style="normal" fill="#222" >0.05</text>
<text x="383.5" y="165.6" font-size="7.6" text-anchor="middle" font-weight="normal" font-style="italic" fill="#4a4a4a" >26</text>
<text x="394.6" y="165.6" font-size="7.6" text-anchor="middle" font-weight="normal" font-style="italic" fill="#4a4a4a" >27</text>
<text x="405.7" y="165.6" font-size="7.6" text-anchor="middle" font-weight="normal" font-style="italic" fill="#4a4a4a" >28</text>
<text x="434.45" y="157" font-size="11" text-anchor="middle" font-weight="normal" font-style="normal" fill="#222" >0.1</text>
<text x="424.5" y="165.6" font-size="7.6" text-anchor="middle" font-weight="normal" font-style="italic" fill="#4a4a4a" >26</text>
<text x="435.6" y="165.6" font-size="7.6" text-anchor="middle" font-weight="normal" font-style="italic" fill="#4a4a4a" >28</text>
<text x="446.7" y="165.6" font-size="7.6" text-anchor="middle" font-weight="normal" font-style="italic" fill="#4a4a4a" >27</text>
<text x="475.0833333333333" y="157" font-size="11" text-anchor="middle" font-weight="normal" font-style="normal" fill="#222" >0.25</text>
<text x="465.5" y="165.6" font-size="7.6" text-anchor="middle" font-weight="normal" font-style="italic" fill="#4a4a4a" >25</text>
<text x="476.6" y="165.6" font-size="7.6" text-anchor="middle" font-weight="normal" font-style="italic" fill="#4a4a4a" >27</text>
<text x="487.7" y="165.6" font-size="7.6" text-anchor="middle" font-weight="normal" font-style="italic" fill="#4a4a4a" >28</text>
<text x="515.7166666666667" y="157" font-size="11" text-anchor="middle" font-weight="normal" font-style="normal" fill="#222" >0.5</text>
<text x="506.5" y="165.6" font-size="7.6" text-anchor="middle" font-weight="normal" font-style="italic" fill="#4a4a4a" >26</text>
<text x="517.6" y="165.6" font-size="7.6" text-anchor="middle" font-weight="normal" font-style="italic" fill="#4a4a4a" >27</text>
<text x="528.7" y="165.6" font-size="7.6" text-anchor="middle" font-weight="normal" font-style="italic" fill="#4a4a4a" >27</text>
<text x="556.3499999999999" y="157" font-size="11" text-anchor="middle" font-weight="normal" font-style="normal" fill="#222" >1</text>
<text x="547.5" y="165.6" font-size="7.6" text-anchor="middle" font-weight="normal" font-style="italic" fill="#4a4a4a" >26</text>
<text x="558.6" y="165.6" font-size="7.6" text-anchor="middle" font-weight="normal" font-style="italic" fill="#4a4a4a" >27</text>
<text x="569.7" y="165.6" font-size="7.6" text-anchor="middle" font-weight="normal" font-style="italic" fill="#4a4a4a" >27</text>
<text x="596.9833333333333" y="157" font-size="11" text-anchor="middle" font-weight="normal" font-style="normal" fill="#222" >2.5</text>
<text x="588.5" y="165.6" font-size="7.6" text-anchor="middle" font-weight="normal" font-style="italic" fill="#4a4a4a" >25</text>
<text x="599.6" y="165.6" font-size="7.6" text-anchor="middle" font-weight="normal" font-style="italic" fill="#4a4a4a" >27</text>
<text x="610.7" y="165.6" font-size="7.6" text-anchor="middle" font-weight="normal" font-style="italic" fill="#4a4a4a" >27</text>
<text x="365.8" y="165.6" font-size="7.6" text-anchor="start" font-weight="normal" font-style="italic" fill="#4a4a4a" >N:</text>
<text x="614.7" y="156.3" font-size="12" text-anchor="start" font-weight="bold" font-style="normal" fill="#1a1a1a" >f [Hz]</text>
<text x="619.3" y="30.6" font-size="9" text-anchor="start" font-weight="bold" font-style="italic" fill="#111" >amplitude</text>
<rect x="621.6" y="36.8" width="8.6" height="9.400000000000006" fill="#0b3cba" stroke="#0a2060" stroke-width="1" />
<text x="631" y="45.800000000000004" font-size="12" text-anchor="start" font-weight="normal" font-style="normal" fill="#1a1a1a" >0.4 V</text>
<rect x="621.6" y="50" width="8.6" height="9.100000000000001" fill="#7aa2df" stroke="#3b5278" stroke-width="1" />
<text x="631" y="58.7" font-size="12" text-anchor="start" font-weight="normal" font-style="normal" fill="#1a1a1a" >0.8 V</text>
<rect x="621.6" y="62.9" width="8.6" height="9.100000000000001" fill="#effafb" stroke="#333" stroke-width="1" />
<text x="631" y="71.60000000000001" font-size="12" text-anchor="start" font-weight="normal" font-style="normal" fill="#1a1a1a" >1.2 V</text>
<text x="14" y="196.3" font-size="21" text-anchor="start" font-weight="bold" font-style="normal" fill="#000" >c</text>
<text x="76" y="196.5" font-size="16.5" text-anchor="start" font-weight="normal" font-style="normal" fill="#111" >Non-linearity</text>
<line x1="32.5" y1="215.3" x2="287.2" y2="215.3" stroke="#e0e0e0" stroke-width="1" />
<line x1="32.5" y1="215.3" x2="35.0" y2="215.3" stroke="#444" stroke-width="1.2" />
<line x1="284.7" y1="215.3" x2="287.2" y2="215.3" stroke="#444" stroke-width="1.2" />
<line x1="32.5" y1="232.2" x2="287.2" y2="232.2" stroke="#e0e0e0" stroke-width="1" />
<line x1="32.5" y1="232.2" x2="35.0" y2="232.2" stroke="#444" stroke-width="1.2" />
<line x1="284.7" y1="232.2" x2="287.2" y2="232.2" stroke="#444" stroke-width="1.2" />
<line x1="32.5" y1="249" x2="287.2" y2="249" stroke="#e0e0e0" stroke-width="1" />
<line x1="32.5" y1="249" x2="35.0" y2="249" stroke="#444" stroke-width="1.2" />
<line x1="284.7" y1="249" x2="287.2" y2="249" stroke="#444" stroke-width="1.2" />
<line x1="32.5" y1="265.9" x2="287.2" y2="265.9" stroke="#e0e0e0" stroke-width="1" />
<line x1="32.5" y1="265.9" x2="35.0" y2="265.9" stroke="#444" stroke-width="1.2" />
<line x1="284.7" y1="265.9" x2="287.2" y2="265.9" stroke="#444" stroke-width="1.2" />
<line x1="32.5" y1="282.9" x2="287.2" y2="282.9" stroke="#e0e0e0" stroke-width="1" />
<line x1="32.5" y1="282.9" x2="35.0" y2="282.9" stroke="#444" stroke-width="1.2" />
<line x1="284.7" y1="282.9" x2="287.2" y2="282.9" stroke="#444" stroke-width="1.2" />
<line x1="32.5" y1="299.7" x2="287.2" y2="299.7" stroke="#e0e0e0" stroke-width="1" />
<line x1="32.5" y1="299.7" x2="35.0" y2="299.7" stroke="#444" stroke-width="1.2" />
<line x1="284.7" y1="299.7" x2="287.2" y2="299.7" stroke="#444" stroke-width="1.2" />
<line x1="32.5" y1="316.7" x2="287.2" y2="316.7" stroke="#e0e0e0" stroke-width="1" />
<line x1="32.5" y1="316.7" x2="35.0" y2="316.7" stroke="#444" stroke-width="1.2" />
<line x1="284.7" y1="316.7" x2="287.2" y2="316.7" stroke="#444" stroke-width="1.2" />
<line x1="32.5" y1="333.5" x2="287.2" y2="333.5" stroke="#e0e0e0" stroke-width="1" />
<line x1="32.5" y1="333.5" x2="35.0" y2="333.5" stroke="#444" stroke-width="1.2" />
<line x1="284.7" y1="333.5" x2="287.2" y2="333.5" stroke="#444" stroke-width="1.2" />
<line x1="53.724999999999994" y1="337" x2="53.724999999999994" y2="334.5" stroke="#444" stroke-width="1.2" />
<line x1="53.724999999999994" y1="208.6" x2="53.724999999999994" y2="211.1" stroke="#444" stroke-width="1.2" />
<line x1="96.175" y1="337" x2="96.175" y2="334.5" stroke="#444" stroke-width="1.2" />
<line x1="96.175" y1="208.6" x2="96.175" y2="211.1" stroke="#444" stroke-width="1.2" />
<line x1="138.625" y1="337" x2="138.625" y2="334.5" stroke="#444" stroke-width="1.2" />
<line x1="138.625" y1="208.6" x2="138.625" y2="211.1" stroke="#444" stroke-width="1.2" />
<line x1="181.075" y1="337" x2="181.075" y2="334.5" stroke="#444" stroke-width="1.2" />
<line x1="181.075" y1="208.6" x2="181.075" y2="211.1" stroke="#444" stroke-width="1.2" />
<line x1="223.52499999999998" y1="337" x2="223.52499999999998" y2="334.5" stroke="#444" stroke-width="1.2" />
<line x1="223.52499999999998" y1="208.6" x2="223.52499999999998" y2="211.1" stroke="#444" stroke-width="1.2" />
<line x1="265.97499999999997" y1="337" x2="265.97499999999997" y2="334.5" stroke="#444" stroke-width="1.2" />
<line x1="265.97499999999997" y1="208.6" x2="265.97499999999997" y2="211.1" stroke="#444" stroke-width="1.2" />
<line x1="42.5" y1="288.1" x2="42.5" y2="301.3" stroke="#b4b4b4" stroke-width="1" />
<line x1="42.5" y1="310.5" x2="42.5" y2="316.1" stroke="#b4b4b4" stroke-width="1" />
<rect x="37.9" y="301.3" width="9.200000000000003" height="9.199999999999989" fill="#0b3cba" stroke="#0a2b7e" stroke-width="1.1" />
<line x1="42.5" y1="301.3" x2="42.5" y2="310.5" stroke="#909090" stroke-width="1" stroke-opacity="0.35"/>
<line x1="37.9" y1="305.2" x2="47.1" y2="305.2" stroke="#06205e" stroke-width="1.4" />
<circle cx="42.5" cy="303.5" r="1.25" fill="none" stroke="#06205e" stroke-width="1"/>
<line x1="39.9" y1="288.1" x2="45.1" y2="288.1" stroke="#484848" stroke-width="1.4" />
<line x1="39.9" y1="316.1" x2="45.1" y2="316.1" stroke="#484848" stroke-width="1.4" />
<line x1="53.9" y1="270.5" x2="53.9" y2="285.5" stroke="#b4b4b4" stroke-width="1" />
<line x1="53.9" y1="297.3" x2="53.9" y2="314.4" stroke="#b4b4b4" stroke-width="1" />
<rect x="49.3" y="285.5" width="9.200000000000003" height="11.800000000000011" fill="#7aa2df" stroke="#3b5278" stroke-width="1.1" />
<line x1="53.9" y1="285.5" x2="53.9" y2="297.3" stroke="#909090" stroke-width="1" stroke-opacity="0.35"/>
<line x1="49.3" y1="294.3" x2="58.5" y2="294.3" stroke="#1d2d55" stroke-width="1.4" />
<circle cx="53.9" cy="289.4" r="1.25" fill="none" stroke="#1d2d55" stroke-width="1"/>
<line x1="51.3" y1="270.5" x2="56.5" y2="270.5" stroke="#484848" stroke-width="1.4" />
<line x1="51.3" y1="314.4" x2="56.5" y2="314.4" stroke="#484848" stroke-width="1.4" />
<line x1="65.65" y1="213.3" x2="65.65" y2="243.4" stroke="#b4b4b4" stroke-width="1" />
<line x1="65.65" y1="282.7" x2="65.65" y2="307.3" stroke="#b4b4b4" stroke-width="1" />
<rect x="61.0" y="243.4" width="9.299999999999997" height="39.29999999999998" fill="#effafb" stroke="#4a4a4a" stroke-width="1.1" />
<line x1="65.65" y1="243.4" x2="65.65" y2="282.7" stroke="#909090" stroke-width="1" stroke-opacity="0.35"/>
<line x1="61.0" y1="271.2" x2="70.3" y2="271.2" stroke="#2a2a2a" stroke-width="1.4" />
<circle cx="65.65" cy="264.9" r="1.25" fill="none" stroke="#2a2a2a" stroke-width="1"/>
<line x1="63.050000000000004" y1="213.3" x2="68.25" y2="213.3" stroke="#484848" stroke-width="1.4" />
<line x1="63.050000000000004" y1="307.3" x2="68.25" y2="307.3" stroke="#484848" stroke-width="1.4" />
<line x1="85.2" y1="289.4" x2="85.2" y2="302.2" stroke="#b4b4b4" stroke-width="1" />
<line x1="85.2" y1="314.4" x2="85.2" y2="319.6" stroke="#b4b4b4" stroke-width="1" />
<rect x="80.7" y="302.2" width="9.0" height="12.199999999999989" fill="#0b3cba" stroke="#0a2b7e" stroke-width="1.1" />
<line x1="85.2" y1="302.2" x2="85.2" y2="314.4" stroke="#909090" stroke-width="1" stroke-opacity="0.35"/>
<line x1="80.7" y1="307" x2="89.7" y2="307" stroke="#06205e" stroke-width="1.4" />
<circle cx="85.2" cy="305.2" r="1.25" fill="none" stroke="#06205e" stroke-width="1"/>
<line x1="82.60000000000001" y1="289.4" x2="87.8" y2="289.4" stroke="#484848" stroke-width="1.4" />
<line x1="82.60000000000001" y1="319.6" x2="87.8" y2="319.6" stroke="#484848" stroke-width="1.4" />
<line x1="96.3" y1="288.5" x2="96.3" y2="294.3" stroke="#b4b4b4" stroke-width="1" />
<line x1="96.3" y1="302.6" x2="96.3" y2="307.9" stroke="#b4b4b4" stroke-width="1" />
<rect x="91.8" y="294.3" width="9.0" height="8.300000000000011" fill="#7aa2df" stroke="#3b5278" stroke-width="1.1" />
<line x1="96.3" y1="294.3" x2="96.3" y2="302.6" stroke="#909090" stroke-width="1" stroke-opacity="0.35"/>
<line x1="91.8" y1="298.2" x2="100.8" y2="298.2" stroke="#1d2d55" stroke-width="1.4" />
<circle cx="96.3" cy="297.3" r="1.25" fill="none" stroke="#1d2d55" stroke-width="1"/>
<line x1="93.7" y1="288.5" x2="98.89999999999999" y2="288.5" stroke="#484848" stroke-width="1.4" />
<line x1="93.7" y1="307.9" x2="98.89999999999999" y2="307.9" stroke="#484848" stroke-width="1.4" />
<line x1="107.45" y1="250.4" x2="107.45" y2="268" stroke="#b4b4b4" stroke-width="1" />
<line x1="107.45" y1="289.4" x2="107.45" y2="312.3" stroke="#b4b4b4" stroke-width="1" />
<rect x="102.7" y="268" width="9.5" height="21.399999999999977" fill="#effafb" stroke="#4a4a4a" stroke-width="1.1" />
<line x1="107.45" y1="268" x2="107.45" y2="289.4" stroke="#909090" stroke-width="1" stroke-opacity="0.35"/>
<line x1="102.7" y1="283.6" x2="112.2" y2="283.6" stroke="#2a2a2a" stroke-width="1.4" />
<circle cx="107.45" cy="279.2" r="1.25" fill="none" stroke="#2a2a2a" stroke-width="1"/>
<line x1="104.85000000000001" y1="250.4" x2="110.05" y2="250.4" stroke="#484848" stroke-width="1.4" />
<line x1="104.85000000000001" y1="312.3" x2="110.05" y2="312.3" stroke="#484848" stroke-width="1.4" />
<line x1="127.3" y1="295.5" x2="127.3" y2="302.9" stroke="#b4b4b4" stroke-width="1" />
<line x1="127.3" y1="313.7" x2="127.3" y2="325.1" stroke="#b4b4b4" stroke-width="1" />
<rect x="122.5" y="302.9" width="9.599999999999994" height="10.800000000000011" fill="#0b3cba" stroke="#0a2b7e" stroke-width="1.1" />
<line x1="127.3" y1="302.9" x2="127.3" y2="313.7" stroke="#909090" stroke-width="1" stroke-opacity="0.35"/>
<line x1="122.5" y1="310.1" x2="132.1" y2="310.1" stroke="#06205e" stroke-width="1.4" />
<circle cx="127.3" cy="307.5" r="1.25" fill="none" stroke="#06205e" stroke-width="1"/>
<line x1="124.7" y1="295.5" x2="129.9" y2="295.5" stroke="#484848" stroke-width="1.4" />
<line x1="124.7" y1="325.1" x2="129.9" y2="325.1" stroke="#484848" stroke-width="1.4" />
<line x1="138.6" y1="290.2" x2="138.6" y2="299.6" stroke="#b4b4b4" stroke-width="1" />
<line x1="138.6" y1="307.5" x2="138.6" y2="316.1" stroke="#b4b4b4" stroke-width="1" />
<rect x="134.0" y="299.6" width="9.199999999999989" height="7.899999999999977" fill="#7aa2df" stroke="#3b5278" stroke-width="1.1" />
<line x1="138.6" y1="299.6" x2="138.6" y2="307.5" stroke="#909090" stroke-width="1" stroke-opacity="0.35"/>
<line x1="134.0" y1="304.9" x2="143.2" y2="304.9" stroke="#1d2d55" stroke-width="1.4" />
<circle cx="138.6" cy="302.9" r="1.25" fill="none" stroke="#1d2d55" stroke-width="1"/>
<line x1="136.0" y1="290.2" x2="141.2" y2="290.2" stroke="#484848" stroke-width="1.4" />
<line x1="136.0" y1="316.1" x2="141.2" y2="316.1" stroke="#484848" stroke-width="1.4" />
<line x1="150.4" y1="272.6" x2="150.4" y2="286.2" stroke="#b4b4b4" stroke-width="1" />
<line x1="150.4" y1="297.3" x2="150.4" y2="310.5" stroke="#b4b4b4" stroke-width="1" />
<rect x="145.8" y="286.2" width="9.199999999999989" height="11.100000000000023" fill="#effafb" stroke="#4a4a4a" stroke-width="1.1" />
<line x1="150.4" y1="286.2" x2="150.4" y2="297.3" stroke="#909090" stroke-width="1" stroke-opacity="0.35"/>
<line x1="145.8" y1="293.8" x2="155.0" y2="293.8" stroke="#2a2a2a" stroke-width="1.4" />
<circle cx="150.4" cy="292" r="1.25" fill="none" stroke="#2a2a2a" stroke-width="1"/>
<line x1="147.8" y1="272.6" x2="153.0" y2="272.6" stroke="#484848" stroke-width="1.4" />
<line x1="147.8" y1="310.5" x2="153.0" y2="310.5" stroke="#484848" stroke-width="1.4" />
<line x1="170.05" y1="293.2" x2="170.05" y2="306.6" stroke="#b4b4b4" stroke-width="1" />
<line x1="170.05" y1="316.3" x2="170.05" y2="318.8" stroke="#b4b4b4" stroke-width="1" />
<rect x="165.7" y="306.6" width="8.700000000000017" height="9.699999999999989" fill="#0b3cba" stroke="#0a2b7e" stroke-width="1.1" />
<line x1="170.05" y1="306.6" x2="170.05" y2="316.3" stroke="#909090" stroke-width="1" stroke-opacity="0.35"/>
<line x1="165.7" y1="312.3" x2="174.4" y2="312.3" stroke="#06205e" stroke-width="1.4" />
<circle cx="170.05" cy="310.1" r="1.25" fill="none" stroke="#06205e" stroke-width="1"/>
<line x1="167.45000000000002" y1="293.2" x2="172.65" y2="293.2" stroke="#484848" stroke-width="1.4" />
<line x1="167.45000000000002" y1="318.8" x2="172.65" y2="318.8" stroke="#484848" stroke-width="1.4" />
<line x1="181.3" y1="296.4" x2="181.3" y2="304" stroke="#b4b4b4" stroke-width="1" />
<line x1="181.3" y1="311.4" x2="181.3" y2="315.4" stroke="#b4b4b4" stroke-width="1" />
<rect x="176.8" y="304" width="9.0" height="7.399999999999977" fill="#7aa2df" stroke="#3b5278" stroke-width="1.1" />
<line x1="181.3" y1="304" x2="181.3" y2="311.4" stroke="#909090" stroke-width="1" stroke-opacity="0.35"/>
<line x1="176.8" y1="308.4" x2="185.8" y2="308.4" stroke="#1d2d55" stroke-width="1.4" />
<circle cx="181.3" cy="307.3" r="1.25" fill="none" stroke="#1d2d55" stroke-width="1"/>
<line x1="178.70000000000002" y1="296.4" x2="183.9" y2="296.4" stroke="#484848" stroke-width="1.4" />
<line x1="178.70000000000002" y1="315.4" x2="183.9" y2="315.4" stroke="#484848" stroke-width="1.4" />
<line x1="192.6" y1="289.4" x2="192.6" y2="297.6" stroke="#b4b4b4" stroke-width="1" />
<line x1="192.6" y1="304.3" x2="192.6" y2="310.5" stroke="#b4b4b4" stroke-width="1" />
<rect x="188.0" y="297.6" width="9.199999999999989" height="6.699999999999989" fill="#effafb" stroke="#4a4a4a" stroke-width="1.1" />
<line x1="192.6" y1="297.6" x2="192.6" y2="304.3" stroke="#909090" stroke-width="1" stroke-opacity="0.35"/>
<line x1="188.0" y1="301.3" x2="197.2" y2="301.3" stroke="#2a2a2a" stroke-width="1.4" />
<circle cx="192.6" cy="300.3" r="1.25" fill="none" stroke="#2a2a2a" stroke-width="1"/>
<line x1="190.0" y1="289.4" x2="195.2" y2="289.4" stroke="#484848" stroke-width="1.4" />
<line x1="190.0" y1="310.5" x2="195.2" y2="310.5" stroke="#484848" stroke-width="1.4" />
<line x1="212.5" y1="302.2" x2="212.5" y2="310" stroke="#b4b4b4" stroke-width="1" />
<line x1="212.5" y1="318.4" x2="212.5" y2="320.2" stroke="#b4b4b4" stroke-width="1" />
<rect x="207.9" y="310" width="9.199999999999989" height="8.399999999999977" fill="#0b3cba" stroke="#0a2b7e" stroke-width="1.1" />
<line x1="212.5" y1="310" x2="212.5" y2="318.4" stroke="#909090" stroke-width="1" stroke-opacity="0.35"/>
<line x1="207.9" y1="315.4" x2="217.1" y2="315.4" stroke="#06205e" stroke-width="1.4" />
<circle cx="212.5" cy="313.7" r="1.25" fill="none" stroke="#06205e" stroke-width="1"/>
<line x1="209.9" y1="302.2" x2="215.1" y2="302.2" stroke="#484848" stroke-width="1.4" />
<line x1="209.9" y1="320.2" x2="215.1" y2="320.2" stroke="#484848" stroke-width="1.4" />
<line x1="223.6" y1="302.2" x2="223.6" y2="307.3" stroke="#b4b4b4" stroke-width="1" />
<line x1="223.6" y1="314" x2="223.6" y2="317.2" stroke="#b4b4b4" stroke-width="1" />
<rect x="219.0" y="307.3" width="9.199999999999989" height="6.699999999999989" fill="#7aa2df" stroke="#3b5278" stroke-width="1.1" />
<line x1="223.6" y1="307.3" x2="223.6" y2="314" stroke="#909090" stroke-width="1" stroke-opacity="0.35"/>
<line x1="219.0" y1="311.4" x2="228.2" y2="311.4" stroke="#1d2d55" stroke-width="1.4" />
<circle cx="223.6" cy="309.6" r="1.25" fill="none" stroke="#1d2d55" stroke-width="1"/>
<line x1="221.0" y1="302.2" x2="226.2" y2="302.2" stroke="#484848" stroke-width="1.4" />
<line x1="221.0" y1="317.2" x2="226.2" y2="317.2" stroke="#484848" stroke-width="1.4" />
<line x1="235.4" y1="297.3" x2="235.4" y2="303.1" stroke="#b4b4b4" stroke-width="1" />
<line x1="235.4" y1="308.4" x2="235.4" y2="315.4" stroke="#b4b4b4" stroke-width="1" />
<rect x="230.8" y="303.1" width="9.199999999999989" height="5.2999999999999545" fill="#effafb" stroke="#4a4a4a" stroke-width="1.1" />
<line x1="235.4" y1="303.1" x2="235.4" y2="308.4" stroke="#909090" stroke-width="1" stroke-opacity="0.35"/>
<line x1="230.8" y1="306.6" x2="240.0" y2="306.6" stroke="#2a2a2a" stroke-width="1.4" />
<circle cx="235.4" cy="305.6" r="1.25" fill="none" stroke="#2a2a2a" stroke-width="1"/>
<line x1="232.8" y1="297.3" x2="238.0" y2="297.3" stroke="#484848" stroke-width="1.4" />
<line x1="232.8" y1="315.4" x2="238.0" y2="315.4" stroke="#484848" stroke-width="1.4" />
<line x1="255.04999999999998" y1="313.5" x2="255.04999999999998" y2="316.7" stroke="#b4b4b4" stroke-width="1" />
<line x1="255.04999999999998" y1="319.6" x2="255.04999999999998" y2="322.3" stroke="#b4b4b4" stroke-width="1" />
<rect x="250.7" y="316.7" width="8.699999999999989" height="2.900000000000034" fill="#0b3cba" stroke="#0a2b7e" stroke-width="1.1" />
<line x1="255.04999999999998" y1="316.7" x2="255.04999999999998" y2="319.6" stroke="#909090" stroke-width="1" stroke-opacity="0.35"/>
<line x1="250.7" y1="318.1" x2="259.4" y2="318.1" stroke="#06205e" stroke-width="1.4" />
<circle cx="255.04999999999998" cy="318" r="1.25" fill="none" stroke="#06205e" stroke-width="1"/>
<line x1="252.45" y1="313.5" x2="257.65" y2="313.5" stroke="#484848" stroke-width="1.4" />
<line x1="252.45" y1="322.3" x2="257.65" y2="322.3" stroke="#484848" stroke-width="1.4" />
<line x1="266.3" y1="304.3" x2="266.3" y2="312.3" stroke="#b4b4b4" stroke-width="1" />
<line x1="266.3" y1="317.9" x2="266.3" y2="324.2" stroke="#b4b4b4" stroke-width="1" />
<rect x="261.8" y="312.3" width="9.0" height="5.599999999999966" fill="#7aa2df" stroke="#3b5278" stroke-width="1.1" />
<line x1="266.3" y1="312.3" x2="266.3" y2="317.9" stroke="#909090" stroke-width="1" stroke-opacity="0.35"/>
<line x1="261.8" y1="316.1" x2="270.8" y2="316.1" stroke="#1d2d55" stroke-width="1.4" />
<circle cx="266.3" cy="314.9" r="1.25" fill="none" stroke="#1d2d55" stroke-width="1"/>
<line x1="263.7" y1="304.3" x2="268.90000000000003" y2="304.3" stroke="#484848" stroke-width="1.4" />
<line x1="263.7" y1="324.2" x2="268.90000000000003" y2="324.2" stroke="#484848" stroke-width="1.4" />
<line x1="277.6" y1="300.5" x2="277.6" y2="307" stroke="#b4b4b4" stroke-width="1" />
<line x1="277.6" y1="314.4" x2="277.6" y2="321.4" stroke="#b4b4b4" stroke-width="1" />
<rect x="273.0" y="307" width="9.199999999999989" height="7.399999999999977" fill="#effafb" stroke="#4a4a4a" stroke-width="1.1" />
<line x1="277.6" y1="307" x2="277.6" y2="314.4" stroke="#909090" stroke-width="1" stroke-opacity="0.35"/>
<line x1="273.0" y1="310.5" x2="282.2" y2="310.5" stroke="#2a2a2a" stroke-width="1.4" />
<circle cx="277.6" cy="310.5" r="1.25" fill="none" stroke="#2a2a2a" stroke-width="1"/>
<line x1="275.0" y1="300.5" x2="280.20000000000005" y2="300.5" stroke="#484848" stroke-width="1.4" />
<line x1="275.0" y1="321.4" x2="280.20000000000005" y2="321.4" stroke="#484848" stroke-width="1.4" />
<circle cx="42.7" cy="283.2" r="0.7" fill="#666"/>
<circle cx="42.5" cy="334.5" r="0.7" fill="#666"/>
<circle cx="53.8" cy="248.5" r="0.7" fill="#666"/>
<circle cx="53.8" cy="264.5" r="0.7" fill="#666"/>
<circle cx="42.3" cy="256.4" r="0.7" fill="#666"/>
<circle cx="85.1" cy="269.6" r="0.7" fill="#666"/>
<circle cx="96.5" cy="272.6" r="0.7" fill="#666"/>
<circle cx="96.5" cy="280.9" r="0.7" fill="#666"/>
<circle cx="96.5" cy="315.4" r="0.7" fill="#666"/>
<circle cx="127.3" cy="284.1" r="0.7" fill="#666"/>
<circle cx="139.1" cy="287.6" r="0.7" fill="#666"/>
<circle cx="150.2" cy="257" r="0.7" fill="#666"/>
<circle cx="170.1" cy="287.1" r="0.7" fill="#666"/>
<circle cx="192.5" cy="273.9" r="0.7" fill="#666"/>
<circle cx="192.5" cy="313.7" r="0.7" fill="#666"/>
<circle cx="224.1" cy="294.6" r="0.7" fill="#666"/>
<circle cx="234.9" cy="292.5" r="0.7" fill="#666"/>
<circle cx="234.9" cy="294.6" r="0.7" fill="#666"/>
<circle cx="255.1" cy="307.9" r="0.7" fill="#666"/>
<circle cx="255.1" cy="309.6" r="0.7" fill="#666"/>
<circle cx="255.1" cy="325.1" r="0.7" fill="#666"/>
<rect x="32.5" y="208.6" width="254.7" height="128.4" fill="none" stroke="#5a5a5a" stroke-width="1.3"/>
<text x="29.5" y="219.20000000000002" font-size="11.5" text-anchor="end" font-weight="normal" font-style="normal" fill="#222" >3.5</text>
<text x="29.5" y="252.9" font-size="11.5" text-anchor="end" font-weight="normal" font-style="normal" fill="#222" >3</text>
<text x="29.5" y="286.79999999999995" font-size="11.5" text-anchor="end" font-weight="normal" font-style="normal" fill="#222" >2.5</text>
<text x="29.5" y="320.59999999999997" font-size="11.5" text-anchor="end" font-weight="normal" font-style="normal" fill="#222" >2</text>
<g transform="translate(19,241.5) rotate(-90)">
<text x="0" y="0" font-size="12.5" fill="#222">NL</text>
</g>
<text x="53.724999999999994" y="350.6" font-size="11.5" text-anchor="middle" font-weight="normal" font-style="normal" fill="#222" >0.05</text>
<text x="42.9" y="358.8" font-size="7.6" text-anchor="middle" font-weight="normal" font-style="italic" fill="#4a4a4a" >26</text>
<text x="54.4" y="358.8" font-size="7.6" text-anchor="middle" font-weight="normal" font-style="italic" fill="#4a4a4a" >27</text>
<text x="65.9" y="358.8" font-size="7.6" text-anchor="middle" font-weight="normal" font-style="italic" fill="#4a4a4a" >28</text>
<text x="96.175" y="350.6" font-size="11.5" text-anchor="middle" font-weight="normal" font-style="normal" fill="#222" >0.1</text>
<text x="85.8" y="358.8" font-size="7.6" text-anchor="middle" font-weight="normal" font-style="italic" fill="#4a4a4a" >26</text>
<text x="97.3" y="358.8" font-size="7.6" text-anchor="middle" font-weight="normal" font-style="italic" fill="#4a4a4a" >28</text>
<text x="108.8" y="358.8" font-size="7.6" text-anchor="middle" font-weight="normal" font-style="italic" fill="#4a4a4a" >27</text>
<text x="138.625" y="350.6" font-size="11.5" text-anchor="middle" font-weight="normal" font-style="normal" fill="#222" >0.25</text>
<text x="128.7" y="358.8" font-size="7.6" text-anchor="middle" font-weight="normal" font-style="italic" fill="#4a4a4a" >25</text>
<text x="140.2" y="358.8" font-size="7.6" text-anchor="middle" font-weight="normal" font-style="italic" fill="#4a4a4a" >27</text>
<text x="151.7" y="358.8" font-size="7.6" text-anchor="middle" font-weight="normal" font-style="italic" fill="#4a4a4a" >28</text>
<text x="181.075" y="350.6" font-size="11.5" text-anchor="middle" font-weight="normal" font-style="normal" fill="#222" >0.5</text>
<text x="171.6" y="358.8" font-size="7.6" text-anchor="middle" font-weight="normal" font-style="italic" fill="#4a4a4a" >26</text>
<text x="183.1" y="358.8" font-size="7.6" text-anchor="middle" font-weight="normal" font-style="italic" fill="#4a4a4a" >27</text>
<text x="194.6" y="358.8" font-size="7.6" text-anchor="middle" font-weight="normal" font-style="italic" fill="#4a4a4a" >27</text>
<text x="223.52499999999998" y="350.6" font-size="11.5" text-anchor="middle" font-weight="normal" font-style="normal" fill="#222" >1</text>
<text x="214.5" y="358.8" font-size="7.6" text-anchor="middle" font-weight="normal" font-style="italic" fill="#4a4a4a" >26</text>
<text x="226.0" y="358.8" font-size="7.6" text-anchor="middle" font-weight="normal" font-style="italic" fill="#4a4a4a" >27</text>
<text x="237.5" y="358.8" font-size="7.6" text-anchor="middle" font-weight="normal" font-style="italic" fill="#4a4a4a" >27</text>
<text x="265.97499999999997" y="350.6" font-size="11.5" text-anchor="middle" font-weight="normal" font-style="normal" fill="#222" >2.5</text>
<text x="257.4" y="358.8" font-size="7.6" text-anchor="middle" font-weight="normal" font-style="italic" fill="#4a4a4a" >25</text>
<text x="268.9" y="358.8" font-size="7.6" text-anchor="middle" font-weight="normal" font-style="italic" fill="#4a4a4a" >27</text>
<text x="280.4" y="358.8" font-size="7.6" text-anchor="middle" font-weight="normal" font-style="italic" fill="#4a4a4a" >27</text>
<text x="25" y="358.8" font-size="7.6" text-anchor="start" font-weight="normal" font-style="italic" fill="#4a4a4a" >N:</text>
<text x="286.4" y="350" font-size="12.5" text-anchor="start" font-weight="bold" font-style="normal" fill="#1a1a1a" >f [Hz]</text>
<text x="289.2" y="222.8" font-size="9.6" text-anchor="start" font-weight="bold" font-style="italic" fill="#111" >amplitude</text>
<rect x="291.0" y="227.6" width="9" height="9.0" fill="#0b3cba" stroke="#0a2060" stroke-width="1" />
<text x="300" y="236.0" font-size="12" text-anchor="start" font-weight="normal" font-style="normal" fill="#1a1a1a" >0.4 V</text>
<rect x="291.0" y="241.5" width="9" height="8.5" fill="#7aa2df" stroke="#3b5278" stroke-width="1" />
<text x="300" y="249.4" font-size="12" text-anchor="start" font-weight="normal" font-style="normal" fill="#1a1a1a" >0.8 V</text>
<rect x="291.0" y="255.6" width="9" height="8.400000000000006" fill="#effafb" stroke="#333" stroke-width="1" />
<text x="300" y="263.4" font-size="12" text-anchor="start" font-weight="normal" font-style="normal" fill="#1a1a1a" >1.2 V</text>
<text x="346" y="199" font-size="21" text-anchor="start" font-weight="bold" font-style="normal" fill="#000" >d</text>
<text x="411.7" y="199" font-size="16.5" text-anchor="start" font-weight="normal" font-style="normal" fill="#111" >Measurement range</text>
<line x1="374.0" y1="211.2" x2="374.0" y2="340.3" stroke="#e2e2e2" stroke-width="1" />
<line x1="374.0" y1="340.3" x2="374.0" y2="337.8" stroke="#444" stroke-width="1.1" />
<line x1="374.0" y1="211.2" x2="374.0" y2="213.7" stroke="#444" stroke-width="1.1" />
<line x1="417.56666666666666" y1="211.2" x2="417.56666666666666" y2="340.3" stroke="#e2e2e2" stroke-width="1" />
<line x1="417.56666666666666" y1="340.3" x2="417.56666666666666" y2="337.8" stroke="#444" stroke-width="1.1" />
<line x1="417.56666666666666" y1="211.2" x2="417.56666666666666" y2="213.7" stroke="#444" stroke-width="1.1" />
<line x1="461.1333333333333" y1="211.2" x2="461.1333333333333" y2="340.3" stroke="#e2e2e2" stroke-width="1" />
<line x1="461.1333333333333" y1="340.3" x2="461.1333333333333" y2="337.8" stroke="#444" stroke-width="1.1" />
<line x1="461.1333333333333" y1="211.2" x2="461.1333333333333" y2="213.7" stroke="#444" stroke-width="1.1" />
<line x1="504.7" y1="211.2" x2="504.7" y2="340.3" stroke="#e2e2e2" stroke-width="1" />
<line x1="504.7" y1="340.3" x2="504.7" y2="337.8" stroke="#444" stroke-width="1.1" />
<line x1="504.7" y1="211.2" x2="504.7" y2="213.7" stroke="#444" stroke-width="1.1" />
<line x1="548.2666666666667" y1="211.2" x2="548.2666666666667" y2="340.3" stroke="#e2e2e2" stroke-width="1" />
<line x1="548.2666666666667" y1="340.3" x2="548.2666666666667" y2="337.8" stroke="#444" stroke-width="1.1" />
<line x1="548.2666666666667" y1="211.2" x2="548.2666666666667" y2="213.7" stroke="#444" stroke-width="1.1" />
<line x1="591.8333333333334" y1="211.2" x2="591.8333333333334" y2="340.3" stroke="#e2e2e2" stroke-width="1" />
<line x1="591.8333333333334" y1="340.3" x2="591.8333333333334" y2="337.8" stroke="#444" stroke-width="1.1" />
<line x1="591.8333333333334" y1="211.2" x2="591.8333333333334" y2="213.7" stroke="#444" stroke-width="1.1" />
<line x1="635.4" y1="211.2" x2="635.4" y2="340.3" stroke="#e2e2e2" stroke-width="1" />
<line x1="635.4" y1="340.3" x2="635.4" y2="337.8" stroke="#444" stroke-width="1.1" />
<line x1="635.4" y1="211.2" x2="635.4" y2="213.7" stroke="#444" stroke-width="1.1" />
<line x1="374" y1="305.87333333333333" x2="635.4" y2="305.87333333333333" stroke="#e2e2e2" stroke-width="1" />
<line x1="374" y1="305.87333333333333" x2="376.5" y2="305.87333333333333" stroke="#444" stroke-width="1.1" />
<line x1="632.9" y1="305.87333333333333" x2="635.4" y2="305.87333333333333" stroke="#444" stroke-width="1.1" />
<line x1="374" y1="271.44666666666666" x2="635.4" y2="271.44666666666666" stroke="#e2e2e2" stroke-width="1" />
<line x1="374" y1="271.44666666666666" x2="376.5" y2="271.44666666666666" stroke="#444" stroke-width="1.1" />
<line x1="632.9" y1="271.44666666666666" x2="635.4" y2="271.44666666666666" stroke="#444" stroke-width="1.1" />
<line x1="374" y1="237.01999999999998" x2="635.4" y2="237.01999999999998" stroke="#e2e2e2" stroke-width="1" />
<line x1="374" y1="237.01999999999998" x2="376.5" y2="237.01999999999998" stroke="#444" stroke-width="1.1" />
<line x1="632.9" y1="237.01999999999998" x2="635.4" y2="237.01999999999998" stroke="#444" stroke-width="1.1" />
<rect x="374" y="211.2" width="261.4" height="129.10000000000002" fill="none" stroke="#5a5a5a" stroke-width="1.3"/>
<polyline points="374,323.2 504.7,323.2 635.4,225.4" fill="none" stroke="#13288a" stroke-width="3.6" stroke-linejoin="miter"/>
<clipPath id="cd"><rect x="372" y="210.39999999999998" width="265.4" height="131.10000000000002"/></clipPath>
<polyline clip-path="url(#cd)" points="374,253.7 504,253.7 567,209.5" fill="none" stroke="#7f7f7f" stroke-width="3.2" stroke-dasharray="13.5 3 5.5 3.5" stroke-linejoin="miter"/>
<text x="370.8" y="345.1" font-size="11.5" text-anchor="end" font-weight="normal" font-style="normal" fill="#222" >0</text>
<text x="370.8" y="309.90000000000003" font-size="11.5" text-anchor="end" font-weight="normal" font-style="normal" fill="#222" >0.4</text>
<text x="370.8" y="275.3" font-size="11.5" text-anchor="end" font-weight="normal" font-style="normal" fill="#222" >0.8</text>
<text x="370.8" y="240.8" font-size="11.5" text-anchor="end" font-weight="normal" font-style="normal" fill="#222" >1.2</text>
<text x="374.0" y="354.5" font-size="11.5" text-anchor="middle" font-weight="normal" font-style="normal" fill="#222" >-4</text>
<text x="417.56666666666666" y="354.5" font-size="11.5" text-anchor="middle" font-weight="normal" font-style="normal" fill="#222" >-3</text>
<text x="461.1333333333333" y="354.5" font-size="11.5" text-anchor="middle" font-weight="normal" font-style="normal" fill="#222" >-2</text>
<text x="504.7" y="354.5" font-size="11.5" text-anchor="middle" font-weight="normal" font-style="normal" fill="#222" >-1</text>
<text x="548.2666666666667" y="354.5" font-size="11.5" text-anchor="middle" font-weight="normal" font-style="normal" fill="#222" >0</text>
<text x="591.8333333333334" y="354.5" font-size="11.5" text-anchor="middle" font-weight="normal" font-style="normal" fill="#222" >1</text>
<text x="635.4" y="354.5" font-size="11.5" text-anchor="middle" font-weight="normal" font-style="normal" fill="#222" >2</text>
<text x="378.2" y="223.7" font-size="13" text-anchor="start" font-weight="normal" font-style="normal" fill="#222" xml:space="preserve">amplitude  [V]</text>
<text x="407.6" y="248.3" font-size="17.6" text-anchor="start" font-weight="bold" font-style="normal" fill="#7a7a7a" >&gt; 95 %</text>
<text x="450" y="287.5" font-size="17" text-anchor="start" font-weight="bold" font-style="normal" fill="#7b2a8c" >non-linear</text>
<text x="578.3" y="298.8" font-size="17" text-anchor="start" font-weight="bold" font-style="normal" fill="#1f8a22" >linear</text>
<text x="347.8" y="320" font-size="12" font-weight="bold" fill="#7b2a8c">a<tspan font-size="10" dy="7" dx="0.5">min</tspan></text>
<text x="568" y="330.2" font-size="13" fill="#2a2a2a">log<tspan font-size="9.5" dy="7">2</tspan><tspan dy="-7"> (f [Hz])</tspan></text>
<polygon points="303.9,290.4 336.7,290.4 336.7,285.2 353.6,293 336.7,300.9 336.7,295.7 303.9,295.7" fill="#000"/>
</svg></body></html>
